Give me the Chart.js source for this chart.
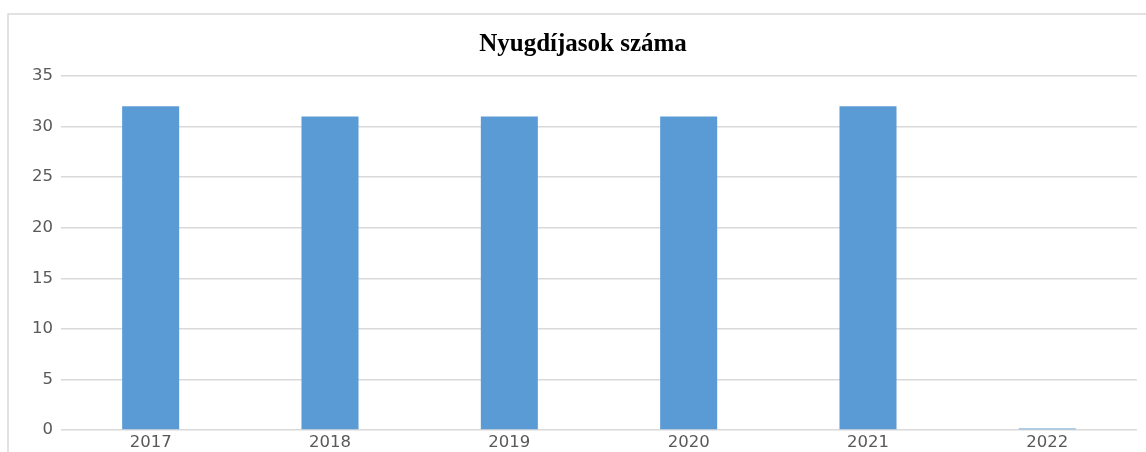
<!DOCTYPE html>
<html>
<head>
<meta charset="utf-8">
<script src="https://cdn.jsdelivr.net/npm/chart.js@4.4.1/dist/chart.umd.min.js"></script>
<style>
html,body{margin:0;padding:0;background:#fff;overflow:hidden;}
#wrap{width:1146px;height:452px;position:relative;}
</style>
</head>
<body>
<div id="wrap"><canvas id="c" width="1146" height="452"></canvas></div>
<script>
const categories = ['2017', '2018', '2019', '2020', '2021', '2022'];
const values = [32, 31, 31, 31, 32, 0];
const yTicks = [0, 5, 10, 15, 20, 25, 30, 35];
const titleText = 'Nyugdíjasok száma';

const framePlugin = {
  id: 'frame',
  beforeDraw(chart) {
    const ctx = chart.ctx;
    ctx.save();
    ctx.fillStyle = '#ffffff';
    ctx.fillRect(0, 0, chart.width, chart.height);
    ctx.strokeStyle = '#d9d9d9';
    ctx.lineWidth = 1.5;
    ctx.beginPath();
    ctx.moveTo(8, chart.height + 5);
    ctx.lineTo(8, 14);
    ctx.lineTo(chart.width + 5, 14);
    ctx.stroke();
    ctx.restore();
  },
  afterDraw(chart) {
    const ctx = chart.ctx;
    ctx.save();
    ctx.fillStyle = '#000000';
    ctx.font = 'bold 25px "Liberation Serif", "Times New Roman", serif';
    ctx.textAlign = 'center';
    ctx.textBaseline = 'middle';
    ctx.fillText(titleText, 583, 45);
    ctx.restore();
  }
};

new Chart(document.getElementById('c'), {
  type: 'bar',
  data: {
    labels: categories,
    datasets: [{
      data: values,
      backgroundColor: '#5b9bd5',
      borderWidth: 0,
      barPercentage: 1,
      categoryPercentage: 0.318,
      minBarLength: 1.5
    }]
  },
  options: {
    responsive: false,
    animation: false,
    devicePixelRatio: 1,
    layout: { padding: { top: 76, left: 0, right: 9, bottom: 0 } },
    plugins: { legend: { display: false }, title: { display: false }, tooltip: { enabled: false } },
    scales: {
      x: {
        grid: { display: false, drawTicks: false },
        border: { display: false },
        ticks: { color: '#595959', font: { family: '"DejaVu Sans", sans-serif', size: 16.5 }, padding: 3, maxRotation: 0 },
        afterFit(s) { s.height = 22; }
      },
      y: {
        min: 0,
        max: 35,
        afterBuildTicks(s) { s.ticks = yTicks.map(v => ({ value: v })); },
        grid: { color: '#d9d9d9', lineWidth: 1.5, drawTicks: false },
        border: { display: false },
        ticks: { color: '#595959', font: { family: '"DejaVu Sans", sans-serif', size: 16.5 }, padding: 8 },
        afterFit(s) { s.width = 61; }
      }
    }
  },
  plugins: [framePlugin]
});
</script>
</body>
</html>
